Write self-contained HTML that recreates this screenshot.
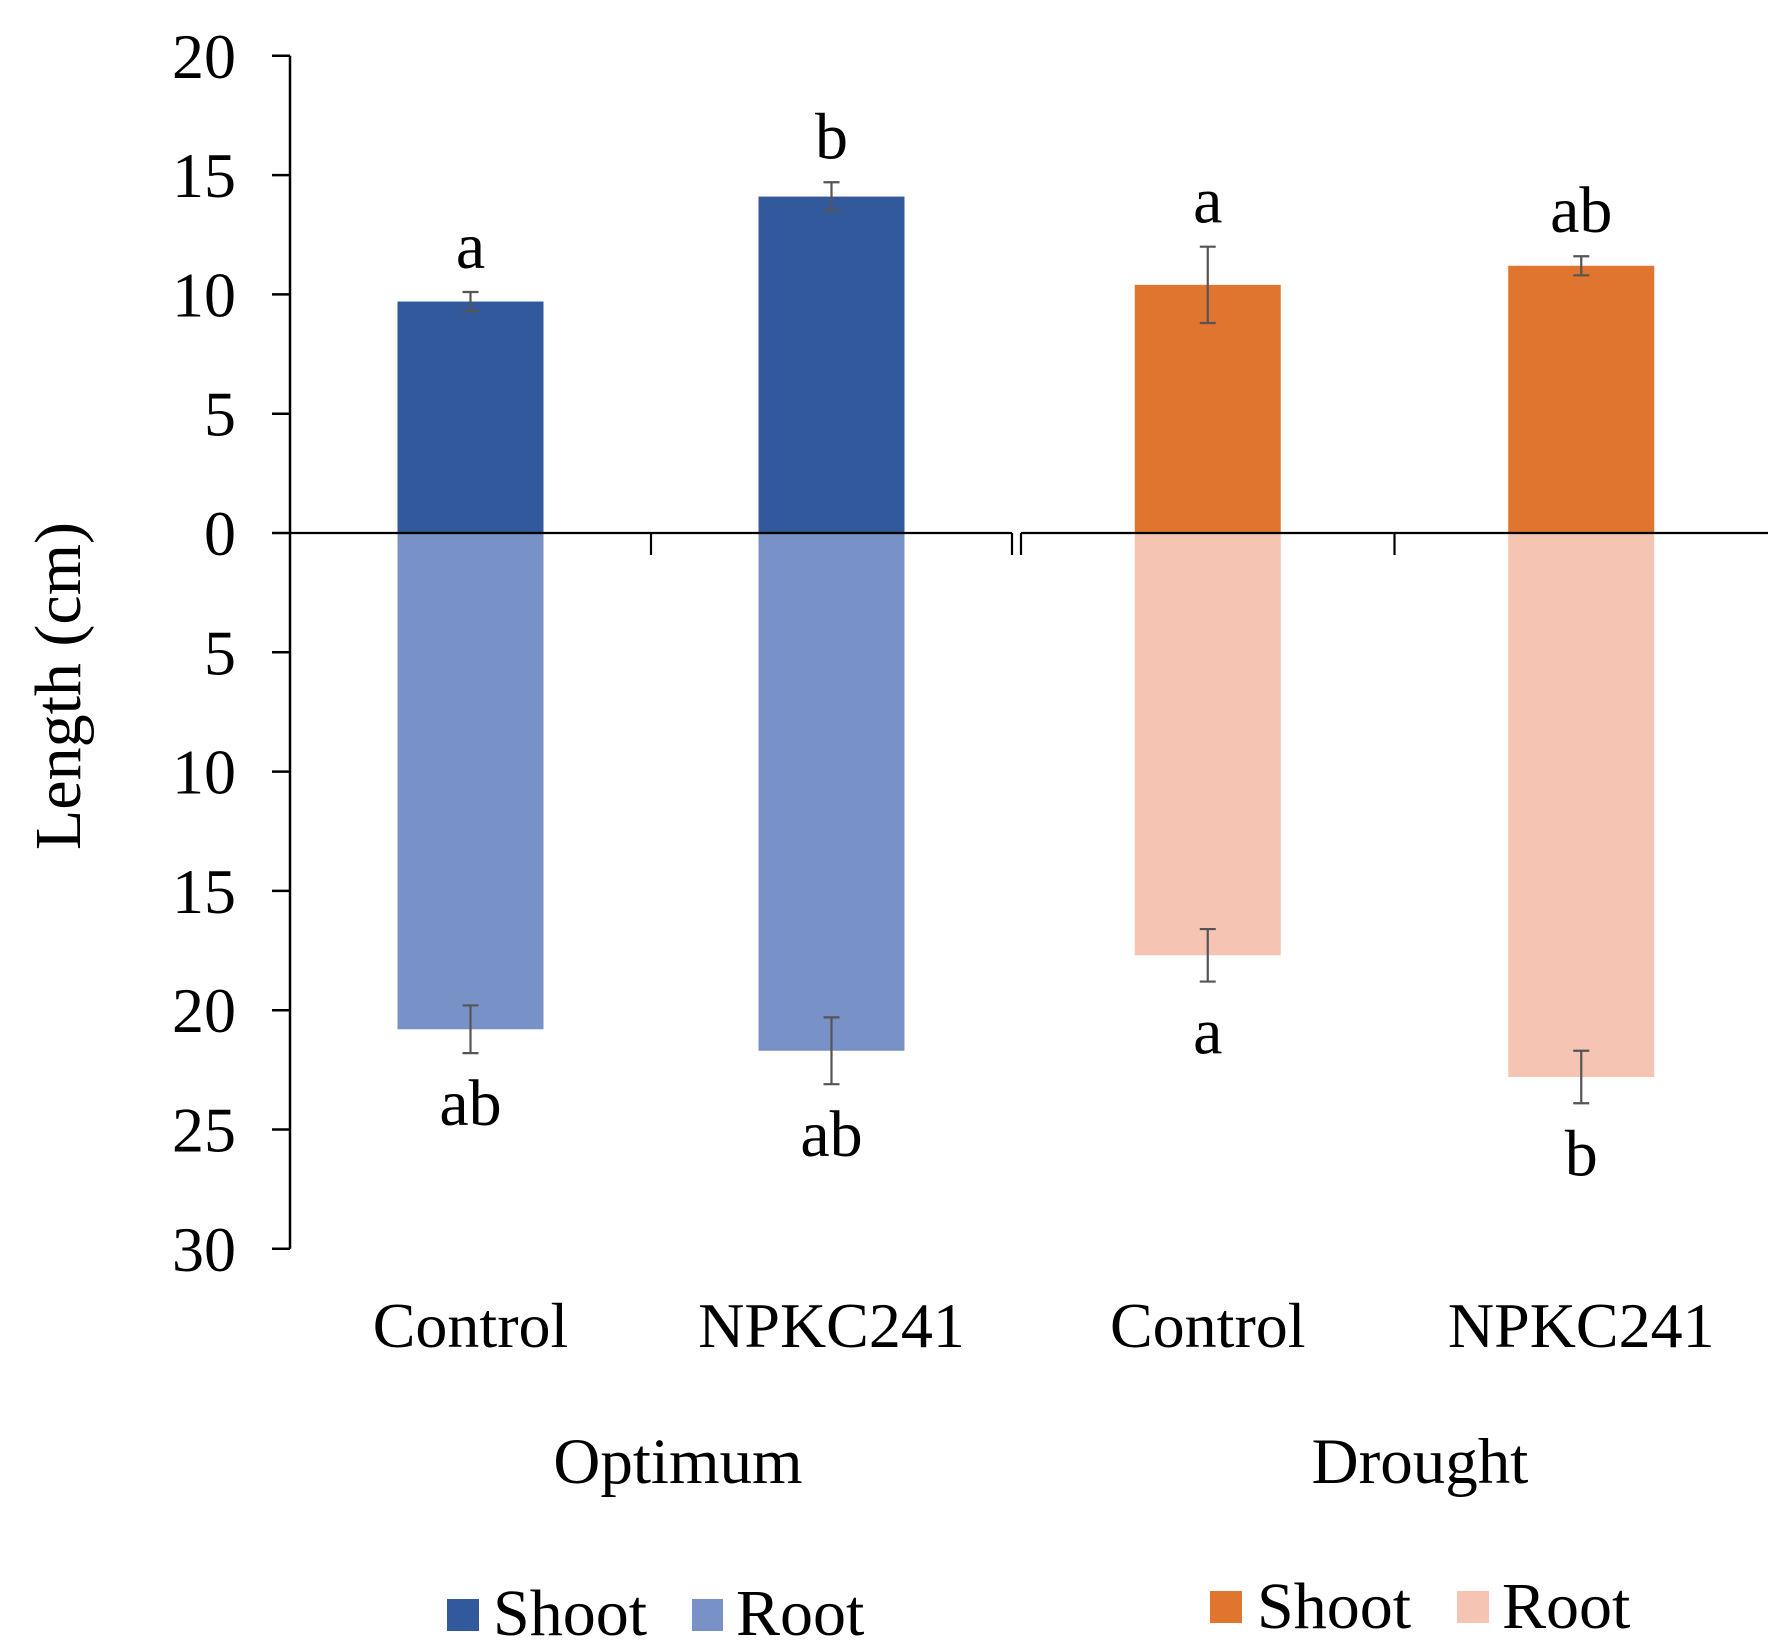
<!DOCTYPE html>
<html><head><meta charset="utf-8">
<style>
html,body{margin:0;padding:0;background:#fff;}
svg{display:block;font-family:"Liberation Serif",serif;}
</style></head>
<body>
<svg id="chart" width="1786" height="1651" viewBox="0 0 1786 1651">
<text x="0" y="0" font-size="66" text-anchor="middle" transform="translate(80,686) rotate(-90)">Length (cm)</text>
<text x="678" y="1483" font-size="65" text-anchor="middle">Optimum</text>
<text x="1420" y="1483" font-size="65" text-anchor="middle">Drought</text>
<g>
<rect x="447" y="1599" width="32" height="32" fill="#31599c"/>
<text x="493" y="1635" font-size="66">Shoot</text>
<rect x="692" y="1599" width="31" height="32" fill="#7892c8"/>
<text x="736" y="1635" font-size="66">Root</text>
</g>
<g>
<rect x="1210" y="1591" width="32" height="32" fill="#e07530"/>
<text x="1257" y="1628" font-size="66">Shoot</text>
<rect x="1457" y="1591" width="32" height="32" fill="#f5c4b3"/>
<text x="1502" y="1628" font-size="66">Root</text>
</g>
</svg>
<script>
const categories = ["Control","NPKC241","Control","NPKC241"];
const shootValues = [9.7, 14.1, 10.4, 11.2];
const shootErrors = [0.4, 0.6, 1.6, 0.4];
const rootValues = [20.8, 21.7, 17.7, 22.8];
const rootErrors = [1.0, 1.4, 1.1, 1.1];
const shootLetters = ["a","b","a","ab"];
const rootLetters = ["ab","ab","a","b"];
const tickValues = [20,15,10,5,0,-5,-10,-15,-20,-25,-30];
const tickLabels = ["20","15","10","5","0","5","10","15","20","25","30"];

const svg = document.getElementById('chart');
const NS = 'http://www.w3.org/2000/svg';
const y0 = 533, unit = 23.86;
function y(v){ return y0 - v*unit; }
const axisX = 290, groupStart = [290, 1021], groupEnd = [1012, 1768];
function xCenter(i){ const g = i<2?0:1; const w=(groupEnd[g]-groupStart[g])/2; return groupStart[g] + w*(i%2) + w/2; }
const barW = 146;
function mk(tag, attrs){ const e=document.createElementNS(NS,tag); for(const k in attrs) e.setAttribute(k, attrs[k]); svg.appendChild(e); return e; }
const shootCol = ["#31599c","#31599c","#e07530","#e07530"];
const rootCol = ["#7892c8","#7892c8","#f5c4b3","#f5c4b3"];

for(let i=0;i<categories.length;i++){
  const cx = xCenter(i);
  let r = mk('rect',{x:cx-barW/2,y:y(shootValues[i]),width:barW,height:y(0)-y(shootValues[i]),fill:shootCol[i]});
  
  
  r = mk('rect',{x:cx-barW/2,y:y(0),width:barW,height:y(-rootValues[i])-y(0),fill:rootCol[i]});
  
  
  const sets = [[shootValues[i],shootErrors[i],'shoot'],[-rootValues[i],rootErrors[i],'root']];
  for(const [v,e,n] of sets){
    const t=y(v+e), b=y(v-e);
    const p = mk('path',{d:`M${cx} ${t}V${b}M${cx-8} ${t}H${cx+8}M${cx-8} ${b}H${cx+8}`,stroke:'#555',"stroke-width":2.2,fill:'none'});
    
    
  }
  let t = mk('text',{x:cx,y:y(shootValues[i]+shootErrors[i])-24,"font-size":66,"text-anchor":"middle"});
  t.textContent = shootLetters[i];
  
  
  t = mk('text',{x:cx,y:y(-rootValues[i]-rootErrors[i])+72,"font-size":66,"text-anchor":"middle"});
  t.textContent = rootLetters[i];
  
  
  t = mk('text',{x:cx,y:1347,"font-size":64,"text-anchor":"middle"});
  t.textContent = categories[i];
  
  
}
let ax = mk('path',{d:`M${axisX} ${y(20)}V${y(-30)}`,stroke:'#000',"stroke-width":2.5,fill:'none'});


for(let k=0;k<tickValues.length;k++){
  const ty = y(tickValues[k]);
  const tk = mk('path',{d:`M${axisX-18} ${ty}H${axisX}`,stroke:'#000',"stroke-width":2.5});
  
  
  const tl = mk('text',{x:236,y:ty+22,"font-size":64,"text-anchor":"end"});
  tl.textContent = tickLabels[k];
  
  
}
for(let g=0;g<2;g++){
  const s=groupStart[g], e=groupEnd[g], m=(s+e)/2;
  const p = mk('path',{d:`M${s} ${y0}H${e}M${m} ${y0}V${y0+22}M${g===0?e:s} ${y0}V${y0+22}`,stroke:'#000',"stroke-width":2.2,fill:'none'});
  
  
}
</script>
</body></html>
